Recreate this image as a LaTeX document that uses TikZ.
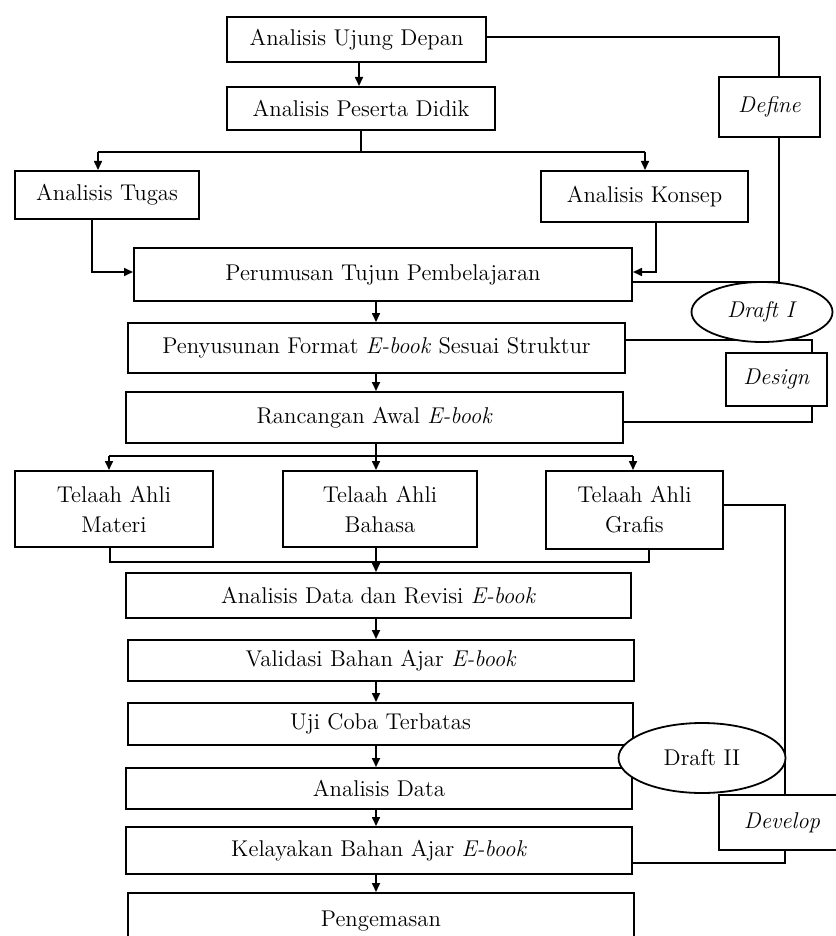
\documentclass[tikz,border=0pt]{standalone}
\usepackage{tikz}
\usetikzlibrary{arrows.meta,shapes.geometric}
\newcommand{\corLinha}{black}
\newcommand{\corTexto}{black}
\tikzset{
  caixa/.style={draw=\corLinha, line width=1pt, fill=white, inner sep=0pt,
    text=\corTexto, font=\fontsize{11.4}{15}\selectfont, align=center},
  elipse/.style={draw=\corLinha, line width=0.9pt, fill=white, ellipse, inner sep=0pt,
    text=\corTexto, font=\fontsize{11.4}{15}\selectfont},
  tam/.style 2 args={minimum width=#1*0.5pt, minimum height=#2*0.5pt},
  liga/.style={draw=\corLinha, line width=0.8pt},
  seta/.style={liga, -{Triangle[length=4.5pt,width=4pt]}}
}
\begin{document}
\begin{tikzpicture}[x=0.5pt, y=-0.5pt]
        \useasboundingbox (0,0) rectangle (835,936);

          % etapa define
        \node[caixa, tam={259}{45}] (udepan) at (356.5,39.5) {Analisis Ujung Depan};
        \node[caixa, tam={268}{43}] (peserta) at (361,108.5) {Analisis Peserta Didik};
        \node[caixa, tam={184}{48}] (tugas) at (107,195) {Analisis Tugas};
        \node[caixa, tam={207}{51}] (konsep) at (644.5,196.5) {Analisis Konsep};
        \node[caixa, tam={498}{53}] (tujuan) at (383,274.5) {Perumusan Tujun Pembelajaran};
        \node[caixa, tam={101}{60}] (define) at (769.5,107) {\textit{Define}};

          % etapa design
        \node[caixa, tam={497}{50}] (format) at (376.5,348) {Penyusunan Format \textit{E-book} Sesuai Struktur};
        \node[caixa, tam={497}{51}] (rancangan) at (374.5,417.5) {Rancangan Awal \textit{E-book}};
        \node[caixa, tam={101}{53}] (design) at (776.5,379.5) {\textit{Design}};

          % etapa develop
        \node[caixa, tam={198}{76}] (materi) at (114,509) {Telaah Ahli\\Materi};
        \node[caixa, tam={194}{76}] (bahasa) at (380,509) {Telaah Ahli\\Bahasa};
        \node[caixa, tam={177}{78}] (grafis) at (634.5,510) {Telaah Ahli\\Grafis};
        \node[caixa, tam={505}{45}] (revisi) at (378.5,595.5) {Analisis Data dan Revisi \textit{E-book}};
        \node[caixa, tam={506}{41}] (validasi) at (381,660.5) {Validasi Bahan Ajar \textit{E-book}};
        \node[caixa, tam={505}{42}] (ujicoba) at (380.5,724) {Uji Coba Terbatas};
        \node[caixa, tam={506}{41}] (adata) at (379,788.5) {Analisis Data};
        \node[caixa, tam={506}{47}] (kelayakan) at (379,850.5) {Kelayakan Bahan Ajar \textit{E-book}};
        \node[caixa, tam={506}{57}] (kemas) at (381,921.5) {Pengemasan};
        \node[caixa, tam={126}{55}] (develop) at (782,822.5) {\textit{Develop}};

          % pontos de apoio
        \coordinate (eixo) at (376,0);
        \coordinate (sL) at (98,152);
        \coordinate (sR) at (645,152);
        \coordinate (tL) at (92,272);
        \coordinate (tR) at (656,272);
        \coordinate (dX) at (779,37);
        \coordinate (dB) at (779,282);
        \coordinate (gX) at (812,340);
        \coordinate (gB) at (812,422);
        \coordinate (rL) at (109,456);
        \coordinate (rR) at (633,456);
        \coordinate (bL) at (110,562);
        \coordinate (bR) at (649,562);
        \coordinate (vX) at (785,505);
        \coordinate (vB) at (785,863);

          % ligacoes define
        \draw[seta] (udepan.south -| 359,0) -- (peserta.north -| 359,0);
        \draw[liga] (peserta.south -| 361,0) -- (361,152);
        \draw[liga] (sL) -- (sR);
        \draw[seta] (sL) -- (sL |- tugas.north);
        \draw[seta] (sR) -- (sR |- konsep.north);
        \draw[seta] (tL |- tugas.south) -- (tL) -- (tL -| tujuan.west);
        \draw[seta] (tR |- konsep.south) -- (tR) -- (tR -| tujuan.east);
        \draw[liga] (udepan.east |- dX) -- (dX) -- (dX |- define.north);
        \draw[liga] (dX |- define.south) -- (dB) -- (dB -| tujuan.east);

          % ligacoes design
        \draw[seta] (eixo |- tujuan.south) -- (eixo |- format.north);
        \draw[seta] (eixo |- format.south) -- (eixo |- rancangan.north);
        \draw[liga] (gX -| format.east) -- (gX) -- (gX |- design.north);
        \draw[liga] (gX |- design.south) -- (gB) -- (gB -| rancangan.east);

          % ligacoes develop
        \draw[liga] (eixo |- rancangan.south) -- (eixo |- rL);
        \draw[liga] (rL) -- (rR);
        \draw[seta] (rL) -- (rL |- materi.north);
        \draw[seta] (eixo |- rL) -- (eixo |- bahasa.north);
        \draw[seta] (rR) -- (rR |- grafis.north);
        \draw[liga] (bL |- materi.south) -- (bL) -- (bR) -- (bR |- grafis.south);
        \draw[seta] (eixo |- bahasa.south) -- (eixo |- revisi.north);
        \draw[seta] (eixo |- revisi.south) -- (eixo |- validasi.north);
        \draw[seta] (eixo |- validasi.south) -- (eixo |- ujicoba.north);
        \draw[seta] (eixo |- ujicoba.south) -- (eixo |- adata.north);
        \draw[seta] (eixo |- adata.south) -- (eixo |- kelayakan.north);
        \draw[seta] (eixo |- kelayakan.south) -- (eixo |- kemas.north);
        \draw[liga] (vX -| grafis.east) -- (vX) -- (vX |- develop.north);
        \draw[liga] (vX |- develop.south) -- (vB) -- (vB -| kelayakan.east);

          % rascunhos
        \node[elipse, tam={141}{60}] (draftA) at (762,312) {\textit{Draft I}};
        \node[elipse, tam={167}{70}] (draftB) at (702,758) {Draft II};

    \end{tikzpicture}
\end{document}
